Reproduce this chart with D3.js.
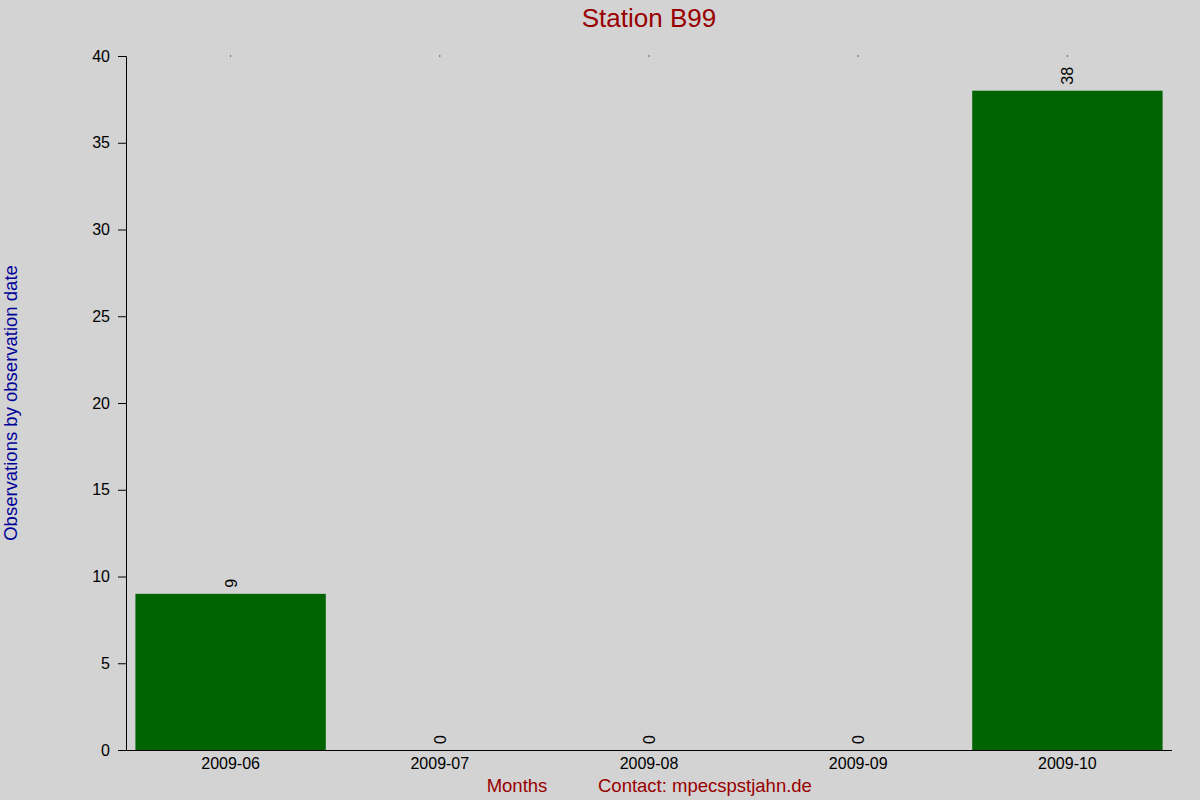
<!DOCTYPE html>
<html>
<head>
<meta charset="utf-8">
<script src="https://cdn.jsdelivr.net/npm/d3@7"></script>
<style>
body { margin: 0; background: #d3d3d3; }
svg { display: block; font-family: "Liberation Sans", Arial, sans-serif; }
</style>
</head>
<body>
<svg id="chart" width="1200" height="800"></svg>
<script>
// chart data
var months = ["2009-06", "2009-07", "2009-08", "2009-09", "2009-10"];
var observations = [9, 0, 0, 0, 38];
var yTicks = [0, 5, 10, 15, 20, 25, 30, 35, 40];

var svg = d3.select("#chart");
//plot area edges (named so they don't clash with window.top)
var plotLeft = 126, plotRight = 1172, plotTop = 56, plotBottom = 750;

svg.append("rect").attr("width", 1200).attr("height", 800).attr("fill", "#d3d3d3");

var x = d3.scaleBand().domain(months).range([plotLeft, plotRight])
	.paddingInner(0.09).paddingOuter(0.045);
var y = d3.scaleLinear().domain([0, 40]).range([plotBottom, plotTop]);

//bars
svg.selectAll("rect.bar").data(months).enter().append("rect")
	.attr("class", "bar")
	.attr("x", function(d) { return x(d); })
	.attr("y", function(d, i) { return y(observations[i]); })
	.attr("width", x.bandwidth())
	.attr("height", function(d, i) { return y(0) - y(observations[i]); })
	.attr("fill", "#006400");

//value labels, rotated above each bar
svg.selectAll("text.val").data(months).enter().append("text")
	.attr("class", "val")
	.attr("transform", function(d, i) {
		return "translate(" + (x(d) + x.bandwidth() / 2 + 6) + "," + (y(observations[i]) - 6) + ") rotate(-90)";
	})
	.attr("font-size", 16)
	.attr("fill", "#000")
	.text(function(d, i) { return observations[i]; });

//little marks at the top of each column
svg.selectAll("rect.dot").data(months).enter().append("rect")
	.attr("class", "dot")
	.attr("x", function(d) { return x(d) + x.bandwidth() / 2 - 0.5; })
	.attr("y", y(40) - 0.5)
	.attr("width", 1).attr("height", 1)
	.attr("fill", "#000");

//axes
var yAxis = svg.append("g").attr("transform", "translate(" + plotLeft + ",0)")
	.call(d3.axisLeft(y).tickValues(yTicks).tickSize(8).tickPadding(8));
var xAxis = svg.append("g").attr("transform", "translate(0," + plotBottom + ")")
	.call(d3.axisBottom(x).tickSize(0).tickPadding(8));
xAxis.select(".domain").attr("d", "M" + (plotLeft - 8) + ",0.5H" + plotRight);
[yAxis, xAxis].forEach(function(g) {
	g.selectAll("text").attr("font-size", 16).attr("fill", "#000")
		.attr("font-family", "Liberation Sans, Arial, sans-serif");
	g.selectAll("line, path").attr("stroke", "#000");
});

//titles
svg.append("text").attr("x", 649).attr("y", 27).attr("text-anchor", "middle")
	.attr("font-size", 26).attr("fill", "#990000").text("Station B99");
svg.append("text").attr("transform", "translate(17,403) rotate(-90)")
	.attr("text-anchor", "middle").attr("font-size", 18.5).attr("fill", "#000099")
	.text("Observations by observation date");
svg.append("text").attr("x", 517).attr("y", 792).attr("text-anchor", "middle")
	.attr("font-size", 18.5).attr("fill", "#990000").text("Months");
svg.append("text").attr("x", 598).attr("y", 792)
	.attr("font-size", 18.5).attr("fill", "#990000").text("Contact: mpecspstjahn.de");
</script>
</body>
</html>
